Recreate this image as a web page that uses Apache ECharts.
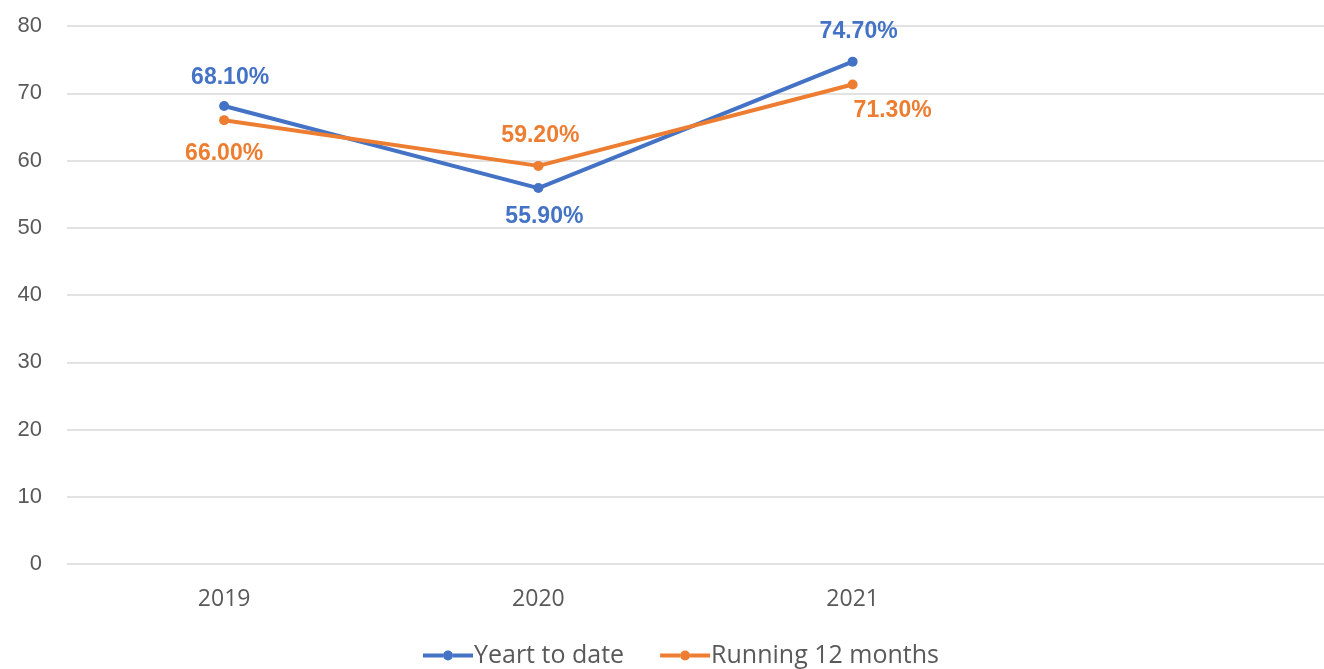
<!DOCTYPE html>
<html><head><meta charset="utf-8">
<script src="https://cdn.jsdelivr.net/npm/echarts@6/dist/echarts.min.js"></script>
<style>html,body{margin:0;padding:0;background:#fff}#c{width:1324px;height:669px}</style>
</head><body><div id="c"></div>
<script>
const categories = ['2019', '2020', '2021', ''];
const yearToDate = [68.1, 55.9, 74.7, null];
const running12 = [66.0, 59.2, 71.3, null];
const yTicks = [0, 10, 20, 30, 40, 50, 60, 70, 80];

// label placement per point (styling only)
const ytdLabelPos = [['top', 12, [6, 0]], ['bottom', 12, [6, 0]], ['top', 13, [6, 0]], ['top', 12, [0, 0]]];
const r12LabelPos = [['bottom', 17, [0, 0]], ['top', 14, [2, 0]], ['bottom', 10, [40, 0]], ['bottom', 10, [0, 0]]];

const chart = echarts.init(document.getElementById('c'));
const fmt = p => p.value.toFixed(2) + '%';
const baseLabel = color => ({show: true, formatter: fmt, color: color,
  fontFamily: 'Liberation Sans', fontWeight: 'bold', fontSize: 23});
const icon = 'path://M0,3h20v4h-20z M30,3h20v4h-20z M20,5a5,5 0 1,0 10,0a5,5 0 1,0 -10,0z';
chart.setOption({
  animation: false,
  grid: {left: 67, right: 0, top: 26, bottom: 105},
  legend: {left: 418, top: 638, itemGap: 36, itemWidth: 50, itemHeight: 10,
    textStyle: {fontFamily: 'Open Sans', fontSize: 25, color: '#595959', padding: [0, 0, 0, -4]},
    data: [{name: 'Yeart to date', icon: icon}, {name: 'Running 12 months', icon: icon}]},
  xAxis: {type: 'category', data: categories, boundaryGap: true,
    axisLine: {show: false}, axisTick: {show: false},
    axisLabel: {fontFamily: 'Open Sans', fontSize: 23, color: '#595959', margin: 24}},
  yAxis: {type: 'value', min: 0, max: 80, interval: 10,
    axisLabel: {fontFamily: 'Liberation Sans', fontSize: 22, color: '#595959', margin: 25,
      formatter: v => yTicks.includes(v) ? String(v) : ''},
    splitLine: {lineStyle: {color: '#d9d9d9', width: 1.5}}},
  series: [
    {name: 'Yeart to date', type: 'line', color: '#4472C4',
      data: yearToDate.map((v, i) => ({value: v, label: {position: ytdLabelPos[i][0], distance: ytdLabelPos[i][1], offset: ytdLabelPos[i][2]}})),
      symbol: 'circle', symbolSize: 10, lineStyle: {width: 4},
      label: baseLabel('#4472C4'), emphasis: {disabled: true}},
    {name: 'Running 12 months', type: 'line', color: '#ED7D31',
      data: running12.map((v, i) => ({value: v, label: {position: r12LabelPos[i][0], distance: r12LabelPos[i][1], offset: r12LabelPos[i][2]}})),
      symbol: 'circle', symbolSize: 10, lineStyle: {width: 4},
      label: baseLabel('#ED7D31'), emphasis: {disabled: true}}
  ]
});
</script></body></html>
